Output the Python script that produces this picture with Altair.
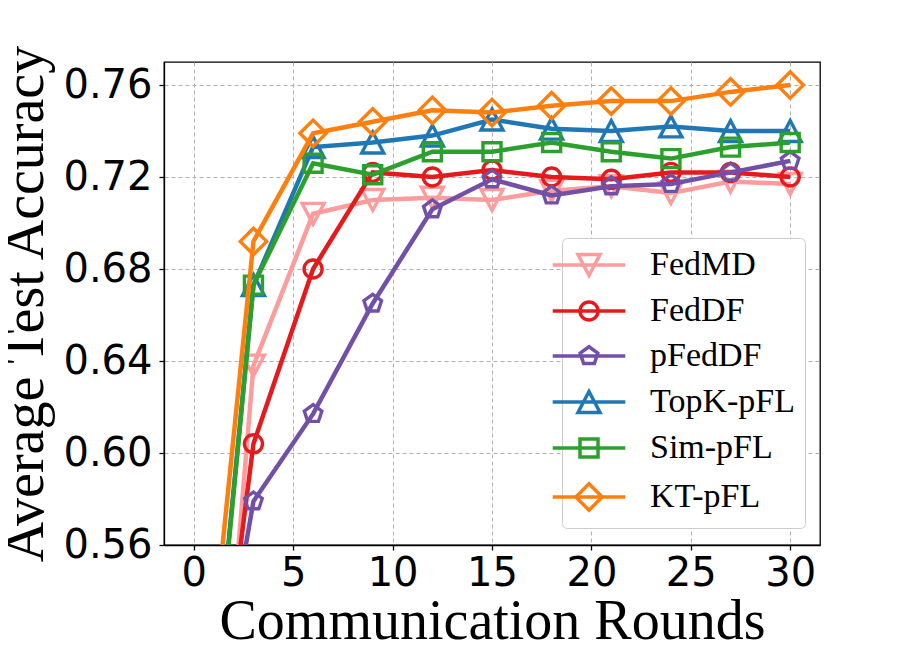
import altair as alt
import pandas as pd

rounds = [0, 3, 6, 9, 12, 15, 18, 21, 24, 27, 30]
names = ["FedMD", "FedDF", "pFedDF", "TopK-pFL", "Sim-pFL", "KT-pFL"]
colors = ["#fc9c9c", "#e41a1c", "#7350a8", "#1f77b4", "#2ca02c", "#ff7f0e"]

fedmd = [0.325, 0.638, 0.704, 0.710, 0.711, 0.710, 0.714, 0.716, 0.713, 0.718, 0.717]
feddf = [0.400, 0.604, 0.680, 0.722, 0.720, 0.723, 0.720, 0.719, 0.722, 0.722, 0.720]
pfeddf = [0.430, 0.579, 0.617, 0.665, 0.706, 0.719, 0.712, 0.716, 0.717, 0.722, 0.727]
topk = [0.405, 0.673, 0.733, 0.735, 0.738, 0.745, 0.741, 0.740, 0.742, 0.740, 0.740]
simpfl = [0.402, 0.673, 0.726, 0.721, 0.731, 0.731, 0.735, 0.731, 0.728, 0.733, 0.735]
ktpfl = [0.437, 0.692, 0.739, 0.744, 0.749, 0.748, 0.751, 0.753, 0.753, 0.757, 0.760]

series = [fedmd, feddf, pfeddf, topk, simpfl, ktpfl]

# marker outlines (unit = sqrt(size)/2)
tri_down = "M0,0.95L1,-0.95L-1,-0.95Z"
circle = "M0.82,0A0.82,0.82 0 1,1 -0.82,0A0.82,0.82 0 1,1 0.82,0Z"
pentagon = "M0,-0.84L0.8,-0.26L0.49,0.68L-0.49,0.68L-0.8,-0.26Z"
tri_up = "M0,-0.95L1,0.95L-1,0.95Z"
square = "M-0.82,-0.82H0.82V0.82H-0.82Z"
diamond = "M0,-1.2L1.2,0L0,1.2L-1.2,0Z"
markers = [tri_down, circle, pentagon, tri_up, square, diamond]
seg = "M-3.3,0H3.3"
legend_shapes = [seg + m for m in markers]

rows = []
for n, vals in zip(names, series):
    for r, v in zip(rounds, vals):
        rows.append({"round": r, "acc": v, "method": n})
df = pd.DataFrame(rows)

x_enc = alt.X(
    "round:Q",
    scale=alt.Scale(domain=[-1.5, 31.5], nice=False, zero=False),
    axis=alt.Axis(values=[0, 5, 10, 15, 20, 25, 30], title="Communication Rounds",
                  titleX=328, titleY=93, titleBaseline="alphabetic", titleAlign="center",
                  labelPadding=3, format="d"),
)
y_enc = alt.Y(
    "acc:Q",
    scale=alt.Scale(domain=[0.56, 0.77], nice=False, zero=False),
    axis=alt.Axis(values=[0.56, 0.60, 0.64, 0.68, 0.72, 0.76], format=".2f",
                  title="Average Test Accuracy", titleX=-122, titleY=241.5,
                  titleAngle=270, titleBaseline="alphabetic", titleAlign="center",
                  labelPadding=7),
)

layers = []
for n, c, m in zip(names, colors, markers):
    sub = alt.Chart(df).transform_filter(alt.datum.method == n)
    layers.append(sub.mark_line(clip=True, strokeWidth=4.5, color=c).encode(x=x_enc, y=y_enc))
    layers.append(sub.mark_point(clip=True, filled=False, shape=m, size=484, strokeWidth=3.4,
                                 color=c, opacity=1).encode(x=x_enc, y=y_enc))

legend_layer = alt.Chart(df).transform_filter(alt.datum["round"] == 0).mark_point(
    clip=True, filled=False, size=484, strokeWidth=3.5, opacity=1
).encode(
    x=x_enc, y=y_enc,
    color=alt.Color("method:N", scale=alt.Scale(domain=names, range=colors),
                    legend=alt.Legend(title=None)),
    shape=alt.Shape("method:N", scale=alt.Scale(domain=names, range=legend_shapes),
                    legend=alt.Legend(title=None)),
)
layers.append(legend_layer)

chart = alt.layer(*layers).properties(
    width=656, height=483,
    autosize=alt.AutoSizeParams(type="none"),
    padding={"left": 156, "top": 54, "right": 60, "bottom": 110},
).configure_view(
    stroke="black", strokeWidth=1.3
).configure_axis(
    grid=True, gridColor="#b0b0b0", gridDash=[4, 3], gridWidth=1,
    domainColor="black", domainWidth=1.3,
    tickColor="black", tickWidth=1.3, tickSize=5,
    labelFont="DejaVu Sans", labelFontSize=40, labelColor="black",
    titleFont="Liberation Serif", titleFontSize=56, titleFontWeight="normal", titleColor="black",
).configure_legend(
    orient="none", legendX=398, legendY=176,
    padding=10, strokeColor="#cccccc", cornerRadius=5, fillColor="white",
    labelFont="Liberation Serif", labelFontSize=34, labelColor="black", labelLimit=0,
    symbolSize=484, symbolStrokeWidth=3.5, labelOffset=44, rowPadding=11,
)

chart.save("out.html", embed_options={"renderer": "svg", "actions": False})
